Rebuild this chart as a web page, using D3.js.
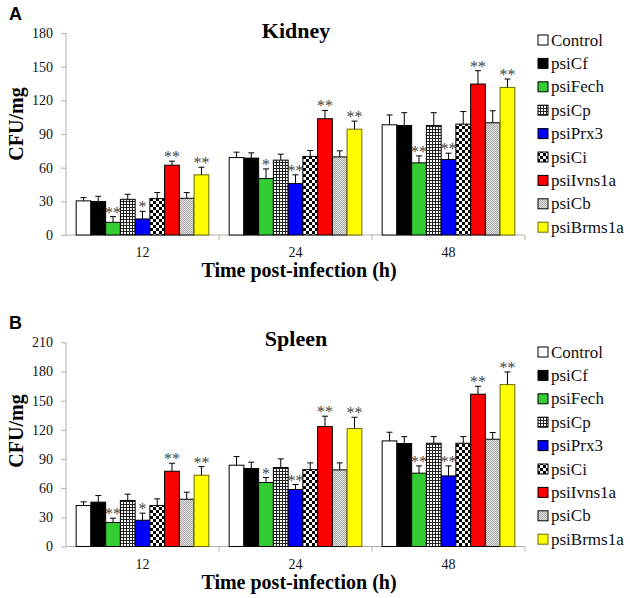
<!DOCTYPE html>
<html><head><meta charset="utf-8">
<script src="https://cdn.jsdelivr.net/npm/d3@7"></script>
<style>body{margin:0;background:#fff}svg{display:block}</style>
</head><body>
<svg id="c" width="630" height="598"></svg>
<script>
const times = ["12", "24", "48"];
const series = ["Control","psiCf","psiFech","psiCp","psiPrx3","psiCi","psiIvns1a","psiCb","psiBrms1a"];
const kidneyMeans = [
  [30.4, 29.8, 11.3, 31.8, 14.3, 32.4, 62.2, 32.7, 53.6],
  [69.0, 68.5, 50.3, 66.7, 45.8, 70.0, 103.6, 69.6, 94.3],
  [98.2, 97.6, 64.3, 97.6, 67.3, 98.8, 134.5, 100.0, 131.5]
];
const kidneyErr = [
  [2.9, 4.7, 5.1, 4.5, 6.8, 5.4, 3.6, 5.1, 6.8],
  [4.8, 4.7, 8.6, 5.3, 7.8, 5.3, 7.4, 5.4, 7.2],
  [8.8, 11.4, 6.2, 11.4, 5.6, 11.2, 11.9, 10.7, 7.5]
];
const spleenMeans = [
  [42.1, 45.6, 24.7, 47.3, 27.0, 42.1, 77.4, 48.6, 73.3],
  [83.6, 80.2, 65.8, 81.2, 58.6, 79.1, 123.3, 78.8, 121.3],
  [108.6, 105.9, 75.4, 106.2, 72.6, 106.2, 156.6, 110.3, 166.5]
];
const spleenErr = [
  [3.8, 6.8, 4.4, 6.5, 7.3, 6.9, 8.2, 7.2, 8.9],
  [8.9, 6.5, 5.1, 8.9, 5.1, 6.9, 10.7, 7.2, 11.6],
  [8.9, 7.1, 7.5, 6.8, 10.3, 6.8, 8.2, 6.9, 13.0]
];
const signif = [
  ["", "", "**", "", "*", "", "**", "", "**"],
  ["", "", "*", "", "**", "", "**", "", "**"],
  ["", "", "**", "", "**", "", "**", "", "**"]
];
const kidneyTicks = [0, 30, 60, 90, 120, 150, 180];
const spleenTicks = [0, 30, 60, 90, 120, 150, 180, 210];

const svg = d3.select("#c");
const defs = svg.append("defs");
const pCp = defs.append("pattern").attr("id","pCp").attr("width",3).attr("height",3).attr("patternUnits","userSpaceOnUse");
pCp.append("rect").attr("width",3).attr("height",3).attr("fill","#fff");
pCp.append("rect").attr("width",3).attr("height",1).attr("fill","#222");
pCp.append("rect").attr("width",1).attr("height",3).attr("fill","#222");
const pCi = defs.append("pattern").attr("id","pCi").attr("width",6).attr("height",6).attr("patternUnits","userSpaceOnUse");
pCi.append("rect").attr("width",6).attr("height",6).attr("fill","#fff");
pCi.append("rect").attr("width",3).attr("height",3).attr("fill","#000");
pCi.append("rect").attr("x",3).attr("y",3).attr("width",3).attr("height",3).attr("fill","#000");
const pCb = defs.append("pattern").attr("id","pCb").attr("width",2).attr("height",2).attr("patternUnits","userSpaceOnUse");
pCb.append("rect").attr("width",2).attr("height",2).attr("fill","#e4e4e4");
pCb.append("rect").attr("width",1).attr("height",1).attr("fill","#a8a8a8");
pCb.append("rect").attr("x",1).attr("y",1).attr("width",1).attr("height",1).attr("fill","#a8a8a8");

const fills = ["#ffffff","#000000","#33cc33","url(#pCp)","#0000ff","url(#pCi)","#ff0000","url(#pCb)","#ffff00"];
const strokes = ["#000","#000","#000","#000","#000","#000","#000","#000","#6b6b00"];
const serif = "'Liberation Serif','Times New Roman',serif";
const axisColor = "#b0b0b0";

function panel(o) {
  const g = svg.append("g");
  const x = d3.scaleBand().domain(times).range([66, 525]).paddingInner(0).paddingOuter(0);
  const xs = d3.scaleBand().domain(series).range([0, x.bandwidth()]).paddingInner(0).paddingOuter(0.69);
  const y = d3.scaleLinear().domain([0, o.max]).range([o.y0, o.yTop]);

  const ya = g.append("g").attr("transform","translate(66,0)")
    .call(d3.axisLeft(y).tickValues(o.ticks).tickSize(5).tickPadding(8).tickFormat(d3.format("d")));
  ya.select(".domain").attr("stroke",axisColor).attr("d",`M0,${o.yTop}V${o.y0}`);
  ya.selectAll(".tick line").attr("stroke",axisColor);
  ya.selectAll(".tick text").attr("font-family",serif).attr("font-size",14).attr("fill","#111");

  g.append("line").attr("x1",66).attr("x2",525).attr("y1",o.y0).attr("y2",o.y0).attr("stroke",axisColor);
  const bounds = times.map(t => x(t)).concat([x("48") + x.bandwidth()]).slice(1);
  g.selectAll(".xt").data(bounds).join("line")
    .attr("x1",d=>d).attr("x2",d=>d).attr("y1",o.y0).attr("y2",o.y0+5).attr("stroke",axisColor);
  g.selectAll(".xl").data(times).join("text")
    .attr("x",d=>x(d)+x.bandwidth()/2).attr("y",o.y0+22)
    .attr("text-anchor","middle").attr("font-family",serif).attr("font-size",14).attr("fill","#111").text(d=>d);

  times.forEach((t, ti) => {
    const gg = g.append("g").attr("transform",`translate(${x(t)},0)`);
    series.forEach((s, si) => {
      const v = o.means[ti][si], e = o.err[ti][si];
      const bx = xs(s), bw = xs.bandwidth();
      gg.append("rect").attr("x",bx).attr("y",y(v)).attr("width",bw).attr("height",o.y0 - y(v))
        .attr("fill",fills[si]).attr("stroke",strokes[si]).attr("stroke-width",1);
      const cx = bx + bw/2;
      gg.append("line").attr("x1",cx).attr("x2",cx).attr("y1",y(v)).attr("y2",y(v+e)).attr("stroke","#000").attr("stroke-width",1);
      gg.append("line").attr("x1",cx-3).attr("x2",cx+3).attr("y1",y(v+e)).attr("y2",y(v+e)).attr("stroke","#000").attr("stroke-width",1);
      if (signif[ti][si]) {
        gg.append("text").attr("x",cx).attr("y",y(v+e)+1).attr("text-anchor","middle")
          .attr("font-family",serif).attr("font-size",16).attr("fill","#444").text(signif[ti][si]);
      }
    });
  });

  g.append("text").attr("x",296).attr("y",o.titleY).attr("text-anchor","middle")
    .attr("font-family",serif).attr("font-weight","bold").attr("font-size",22).text(o.title);
  g.append("text").attr("x",299).attr("y",o.y0+42).attr("text-anchor","middle")
    .attr("font-family",serif).attr("font-weight","bold").attr("font-size",20).text("Time post-infection (h)");
  g.append("text").attr("transform",`translate(23,${o.ylabY}) rotate(-90)`).attr("text-anchor","middle")
    .attr("font-family",serif).attr("font-weight","bold").attr("font-size",20).text("CFU/mg");
  g.append("text").attr("x",9).attr("y",o.letterY).attr("font-family","'Liberation Sans',Arial,sans-serif")
    .attr("font-weight","bold").attr("font-size",18).text(o.letter);

  const leg = g.append("g");
  series.forEach((s, si) => {
    const cy = o.legY0 + si * 23.4;
    leg.append("rect").attr("x",538).attr("y",cy-5).attr("width",10).attr("height",10)
      .attr("fill",fills[si]).attr("stroke",strokes[si]).attr("stroke-width",1);
    leg.append("text").attr("x",551).attr("y",cy+5.5).attr("font-family",serif).attr("font-size",17).attr("fill","#111").text(s);
  });
}

panel({title:"Kidney", letter:"A", letterY:20, titleY:38, max:180, ticks:kidneyTicks, y0:235, yTop:33,
  means:kidneyMeans, err:kidneyErr, ylabY:124, legY0:40});
panel({title:"Spleen", letter:"B", letterY:329, titleY:346, max:210, ticks:spleenTicks, y0:546.5, yTop:342.3,
  means:spleenMeans, err:spleenErr, ylabY:431, legY0:352});
</script>
</body></html>
